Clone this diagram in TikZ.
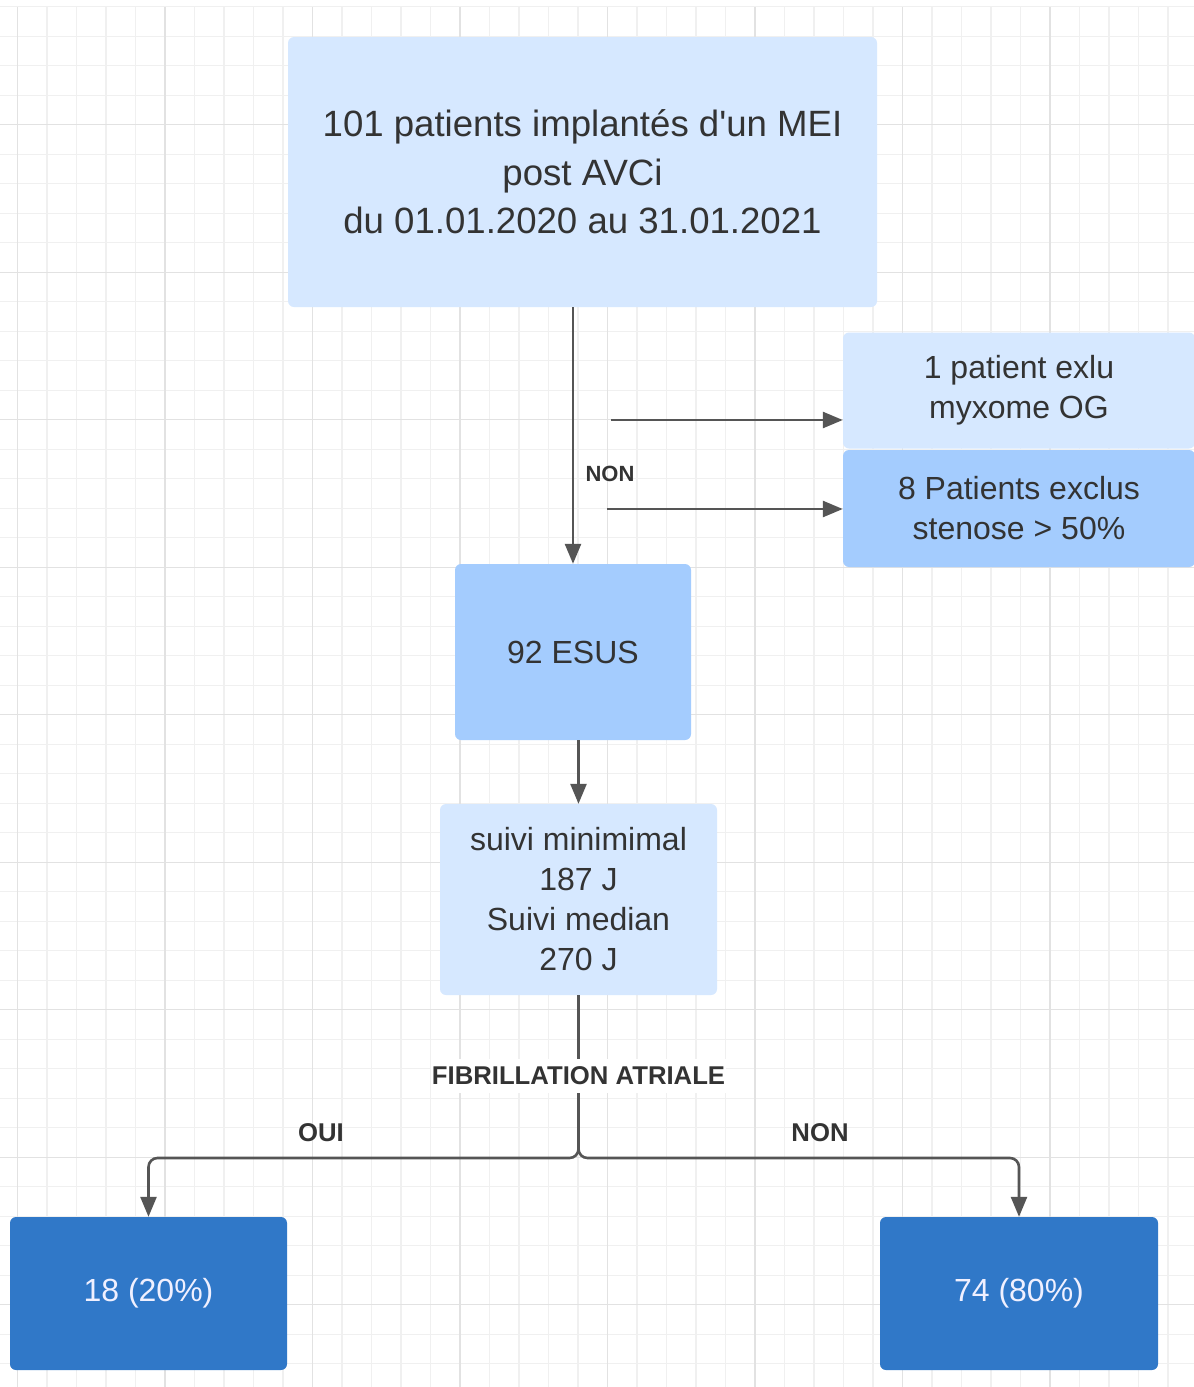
\documentclass[tikz,border=0pt]{standalone}
\usepackage{fontspec}
\setmainfont{Liberation Sans}
\usetikzlibrary{arrows.meta}
\definecolor{lightbox}{HTML}{D6E8FF}
\definecolor{midbox}{HTML}{A4CCFE}
\definecolor{darkbox}{HTML}{3078C8}
\definecolor{txt}{HTML}{333333}
\definecolor{conn}{HTML}{555555}
\definecolor{gridminor}{HTML}{F0F0F0}
\definecolor{gridmajor}{HTML}{E2E2E2}
\tikzset{
  boxbase/.style={rectangle, rounded corners=6pt, draw=none, inner sep=0pt, align=center, text=txt},
  lightnode/.style={boxbase, fill=lightbox},
  midnode/.style={boxbase, fill=midbox},
  darknode/.style={boxbase, fill=darkbox, text=white!94!blue},
  bodytext/.style={font=\fontsize{32}{40}\selectfont},
  conline/.style={draw=conn, line width=2.6pt},
  conarrow/.style={conline, -{Triangle[length=20pt,width=16pt]}},
  lbl/.style={text=txt, font=\bfseries\fontsize{25.7}{30}\selectfont, inner sep=2pt},
}
\begin{document}
\begin{tikzpicture}[x=1pt,y=-1pt]
\useasboundingbox (0,0) rectangle (1194,1387);
\fill[white] (0,0) rectangle (1194,1387);
% grid
\foreach \i in {0,...,39} {
  \draw[gridminor, line width=1.4pt] ({17.3+29.5*\i},7) -- ({17.3+29.5*\i},1387);
}
\foreach \k in {0,...,46} {
  \draw[gridminor, line width=1.4pt] (0,{6.7+29.5*\k}) -- (1194,{6.7+29.5*\k});
}
\foreach \i in {0,5,...,35} {
  \draw[gridmajor, line width=1.4pt] ({17.3+29.5*\i},7) -- ({17.3+29.5*\i},1387);
}
\foreach \k in {4,9,...,44} {
  \draw[gridmajor, line width=1.4pt] (0,{6.7+29.5*\k}) -- (1194,{6.7+29.5*\k});
}
% nodes
\node[lightnode, minimum width=589pt, minimum height=270pt, font=\fontsize{36.6}{48.5}\selectfont] (top) at (582.5,172)
  {101 patients implantés d\textquotesingle un MEI\\post AVCi\\du 01.01.2020 au 31.01.2021};
\node[lightnode, bodytext, minimum width=352pt, minimum height=116pt] (ex1) at (1019,390.5)
  {1 patient exlu\\myxome OG};
\node[midnode, bodytext, minimum width=352pt, minimum height=117pt] (ex2) at (1019,508.5)
  {8 Patients exclus\\stenose > 50\%};
\node[midnode, bodytext, minimum width=236pt, minimum height=176pt] (esus) at (573,652)
  {92 ESUS};
\node[lightnode, bodytext, minimum width=277pt, minimum height=191pt] (suivi) at (578.5,899.5)
  {suivi minimimal\\187 J\\Suivi median\\270 J};
\node[darknode, bodytext, minimum width=277pt, minimum height=153pt] (oui) at (148.5,1293.5)
  {18 (20\%)};
\node[darknode, bodytext, minimum width=278pt, minimum height=153pt] (non) at (1019,1293.5)
  {74 (80\%)};
% connectors
\draw[conarrow] (esus.north |- top.south) -- (esus.north);
\coordinate (s1) at (611,420);
\coordinate (s2) at (607,509);
\draw[conarrow] (s1) -- (s1 -| ex1.west);
\draw[conarrow] (s2) -- (s2 -| ex2.west);
\node[lbl, font=\bfseries\fontsize{22}{26}\selectfont] (nonlbl) at (610,474) {NON};
\draw[conarrow] (suivi.north |- esus.south) -- (suivi.north);
\coordinate (split) at (578.5,1158);
\draw[conarrow, rounded corners=9pt] (suivi.south) -- (split) -| (oui.north);
\draw[conarrow, rounded corners=9pt] (suivi.south) -- (split) -| (non.north);
\node[lbl, fill=white, inner sep=1pt, inner ysep=8pt] (fa) at (578.5,1076) {FIBRILLATION ATRIALE};
\node[lbl] (ouilbl) at (321,1133) {OUI};
\node[lbl] (nonlbl2) at (820,1133) {NON};
\end{tikzpicture}
\end{document}
